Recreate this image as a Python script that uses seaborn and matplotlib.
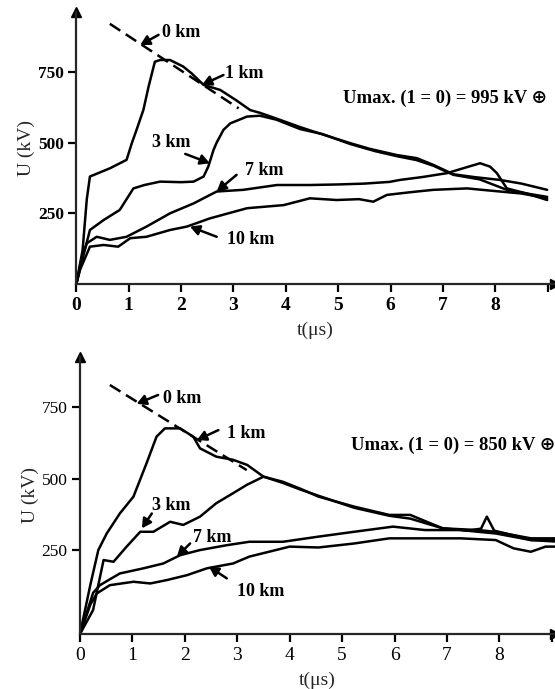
import numpy as np
import pandas as pd
import matplotlib
matplotlib.use("Agg")
import matplotlib.pyplot as plt
import seaborn as sns

# ---------------- data: top panel (Umax = 995 kV) ----------------
top_t_0km = [0.64, 3.1]
top_u_0km = [920, 621]

top_t_1km = [0, 0.12, 0.2, 0.26, 0.64, 0.96, 1.06, 1.15, 1.28, 1.38, 1.5, 1.6, 1.79, 2.04, 2.2, 2.43,
             2.75, 3.05, 3.32, 3.51, 3.82, 4.27, 4.6, 5.23, 5.6, 6.12, 6.5, 6.82, 7.2, 7.6, 8.09, 8.5, 8.99]
top_u_1km = [0, 120, 300, 380, 409, 439, 498, 545, 615, 698, 786, 792, 792, 769, 745, 704,
             686, 650, 615, 605, 585, 555, 535, 498, 478, 456, 445, 421, 388, 378, 368, 355, 333]

top_t_3km = [0, 0.13, 0.26, 0.52, 0.83, 1.09, 1.3, 1.6, 2.0, 2.24, 2.43, 2.52, 2.62, 2.68, 2.81, 2.94,
             3.26, 3.51, 3.82, 4.27, 4.7, 5.23, 5.7, 6.12, 6.5, 6.82, 7.2, 7.7, 8.22, 8.6, 8.99]
top_u_3km = [0, 97, 191, 226, 262, 338, 350, 362, 360, 362, 380, 415, 474, 500, 545, 568,
             592, 595, 581, 548, 530, 495, 470, 452, 438, 418, 386, 370, 333, 320, 297]

top_t_7km = [0, 0.1, 0.2, 0.39, 0.64, 0.96, 1.34, 1.79, 2.24, 2.68, 3.19, 3.83, 4.46, 5.0, 5.5,
             5.98, 6.18, 6.6, 7.08, 7.4, 7.71, 7.9, 8.03, 8.22, 8.6, 8.99]
top_u_7km = [0, 90, 144, 167, 156, 167, 203, 250, 285, 327, 333, 350, 350, 352, 355,
             361, 368, 378, 392, 410, 427, 415, 392, 338, 320, 308]

top_t_10km = [0, 0.07, 0.26, 0.52, 0.8, 1.03, 1.34, 1.79, 2.11, 2.55, 3.26, 3.96, 4.46, 4.97, 5.4,
              5.67, 5.93, 6.4, 6.82, 7.46, 8.09, 8.5, 8.99]
top_u_10km = [0, 50, 132, 138, 132, 162, 167, 191, 203, 232, 268, 279, 303, 297, 300,
              291, 315, 325, 333, 338, 327, 320, 303]

# ---------------- data: bottom panel (Umax = 850 kV) ----------------
bot_t_0km = [0.57, 3.18]
bot_u_0km = [828, 530]

bot_t_1km = [0, 0.2, 0.35, 0.51, 0.76, 1.02, 1.27, 1.46, 1.62, 1.91, 2.16, 2.29, 2.6, 2.92, 3.19, 3.5,
             3.87, 4.2, 4.55, 5.23, 5.9, 6.3, 6.6, 6.92, 7.59, 7.93, 8.6, 9.06]
bot_u_1km = [-44, 130, 250, 308, 378, 437, 554, 647, 676, 676, 647, 606, 577, 566, 548, 507,
             489, 465, 437, 402, 373, 373, 350, 326, 320, 314, 291, 291]

bot_t_3km = [0, 0.25, 0.45, 0.64, 0.89, 1.15, 1.4, 1.72, 1.97, 2.29, 2.6, 2.92, 3.18, 3.5, 3.87,
             4.2, 4.55, 5.23, 5.9, 6.3, 6.92, 7.4, 7.65, 7.76, 7.9, 8.3, 8.6, 9.06]
bot_u_3km = [-44, 40, 215, 209, 262, 314, 314, 349, 338, 367, 414, 449, 478, 507, 485,
             462, 440, 398, 370, 360, 326, 318, 325, 367, 318, 300, 285, 280]

bot_t_7km = [0, 0.25, 0.38, 0.76, 1.21, 1.59, 1.91, 2.29, 2.8, 3.23, 3.87, 4.55, 5.23, 5.97,
             6.58, 7.26, 7.93, 8.6, 9.06]
bot_u_7km = [-44, 100, 127, 168, 186, 203, 232, 250, 267, 279, 279, 297, 314, 332,
             320, 320, 308, 285, 285]

bot_t_10km = [0, 0.2, 0.32, 0.57, 1.02, 1.34, 1.66, 2.04, 2.42, 2.92, 3.23, 4.0, 4.55, 5.23,
              5.9, 6.58, 7.26, 7.93, 8.27, 8.6, 8.88, 9.06]
bot_u_10km = [-44, 60, 98, 127, 139, 133, 145, 162, 186, 203, 227, 262, 259, 273,
              291, 291, 291, 285, 256, 244, 262, 262]

x_tick_values = [0, 1, 2, 3, 4, 5, 6, 7, 8, 9]
x_tick_labels = ["0", "1", "2", "3", "4", "5", "6", "7", "8", ""]
y_tick_values = [250, 500, 750]
y_tick_labels = ["250", "500", "750"]

curve_names = ["0 km", "1 km", "3 km", "7 km", "10 km"]

top_label_text = [(1.63, 888), (2.84, 745), (1.44, 501), (3.22, 400), (2.87, 159)]
top_label_tail = [(1.57, 881), (2.81, 739), (2.08, 460), (3.06, 386), (2.68, 167)]
top_label_head = [(1.22, 845), (2.40, 704), (2.55, 427), (2.68, 327), (2.17, 203)]
top_umax_text = "Umax. (1 = 0) = 995 kV \u2295"

bot_label_text = [(1.59, 779), (2.80, 659), (1.37, 405), (2.16, 294), (3.00, 104)]
bot_label_tail = [(1.49, 793), (2.64, 670), (1.37, 378), (2.10, 273), (2.80, 151)]
bot_label_head = [(1.08, 762), (2.23, 635), (1.18, 326), (1.85, 227), (2.46, 192)]
bot_umax_text = "Umax. (1 = 0) = 850 kV \u2295"

# ---------------- style ----------------
sns.set_style("ticks")
plt.rcParams["font.family"] = ["Liberation Serif", "DejaVu Serif", "DejaVu Sans"]
plt.rcParams["axes.linewidth"] = 1.6

fig = plt.figure(figsize=(5.55, 6.89), dpi=100)
ax_top = fig.add_axes([0.1375, 0.5878, 0.8625, 0.3953])
ax_bot = fig.add_axes([0.1441, 0.0798, 0.8559, 0.4025])


def make_df(t, u, name):
    return pd.DataFrame({"t": t, "U": u, "curve": name})


def draw_panel(ax, series, label_text, label_tail, label_head, umax_text, umax_pos,
               xlim, ylim, tick_weight):
    for (t, u, name) in series:
        df = make_df(t, u, name)
        ls = "--" if name == "0 km" else "-"
        sns.lineplot(data=df, x="t", y="U", ax=ax, color="black", linewidth=1.8,
                     sort=False, estimator=None, linestyle=ls, legend=False)
    for line in ax.get_lines():
        if line.get_linestyle() == "--":
            line.set_dashes([5, 2.6])
    ax.set_xlim(*xlim)
    ax.set_ylim(*ylim)
    sns.despine(ax=ax)
    ax.set_xticks(x_tick_values)
    ax.set_xticklabels(x_tick_labels, fontsize=14, fontweight=tick_weight)
    ax.set_yticks(y_tick_values)
    ax.set_yticklabels(y_tick_labels, fontsize=12.5, fontweight=tick_weight)
    ax.tick_params(axis="both", direction="out", length=6, width=1.6, color="black",
                   labelcolor="black", pad=3)
    ax.set_xlabel("t(\u03bcs)", fontsize=14, labelpad=6)
    ax.set_ylabel("U (kV)", fontsize=14, labelpad=2)
    # axis arrows
    ax.plot(0, 1, marker="^", color="black", markersize=7, transform=ax.transAxes,
            clip_on=False)
    ax.plot(1, 0, marker=">", color="black", markersize=7, transform=ax.transAxes,
            clip_on=False)
    for name, txt, tail, head in zip(curve_names, label_text, label_tail, label_head):
        ax.annotate("", xy=head, xytext=tail,
                    arrowprops=dict(arrowstyle="-|>,head_length=0.55,head_width=0.3",
                                    color="black", lw=1.8, shrinkA=0, shrinkB=0))
        ax.text(txt[0], txt[1], name, fontsize=13, fontweight="bold", ha="left",
                va="center", color="black")
    ax.text(umax_pos[0], umax_pos[1], umax_text, fontsize=13.4, fontweight="bold",
            ha="left", va="center", color="black",
            family=["Liberation Serif", "DejaVu Sans"], clip_on=False)


top_series = [(top_t_0km, top_u_0km, "0 km"), (top_t_1km, top_u_1km, "1 km"),
              (top_t_3km, top_u_3km, "3 km"), (top_t_7km, top_u_7km, "7 km"),
              (top_t_10km, top_u_10km, "10 km")]
bot_series = [(bot_t_0km, bot_u_0km, "0 km"), (bot_t_1km, bot_u_1km, "1 km"),
              (bot_t_3km, bot_u_3km, "3 km"), (bot_t_7km, bot_u_7km, "7 km"),
              (bot_t_10km, bot_u_10km, "10 km")]

draw_panel(ax_top, top_series, top_label_text, top_label_tail, top_label_head,
           top_umax_text, (5.09, 658), (0, 9.14), (0, 963), "bold")
draw_panel(ax_bot, bot_series, bot_label_text, bot_label_tail, bot_label_head,
           bot_umax_text, (5.16, 618), (0, 9.06), (-44, 927), "normal")

fig.savefig("out.png", dpi=100)
